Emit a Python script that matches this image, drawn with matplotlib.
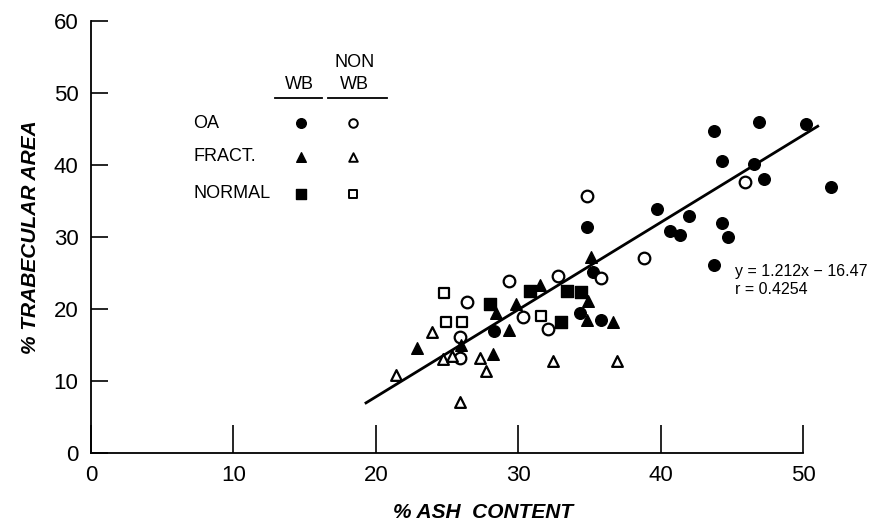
"""
% trabecular area vs % ash content, by group (OA / fract. / normal) and WB / non-WB.
Salida: out.png
"""

import matplotlib
matplotlib.use('Agg')
import matplotlib.pyplot as plt

# OA
oa_wb_x = [34.8, 39.7, 42.0, 40.6, 41.3, 35.2, 43.7, 46.9, 50.2, 44.3, 46.5, 47.2,
           51.9, 44.3, 44.7, 43.7, 34.3, 35.8, 28.3]
oa_wb_y = [31.3, 33.9, 32.9, 30.8, 30.2, 25.1, 44.7, 46.0, 45.6, 40.5, 40.1, 38.0,
           36.9, 31.9, 30.0, 26.1, 19.4, 18.4, 16.9]
oa_non_x = [34.8, 38.8, 35.8, 32.8, 29.3, 45.9, 26.4, 30.3, 32.1, 25.9, 25.9]
oa_non_y = [35.6, 27.1, 24.3, 24.5, 23.8, 37.6, 20.9, 18.9, 17.2, 16.1, 13.1]

# FRACT.
fr_wb_x = [35.1, 31.5, 29.8, 28.4, 34.9, 34.8, 36.6, 29.3, 22.9, 26.0, 28.2]
fr_wb_y = [27.2, 23.3, 20.7, 19.4, 21.1, 18.4, 18.1, 17.1, 14.6, 15.0, 13.7]
fr_non_x = [23.9, 24.7, 25.3, 27.3, 27.7, 32.4, 36.9, 21.4, 25.9]
fr_non_y = [16.7, 13.0, 13.4, 13.1, 11.4, 12.7, 12.7, 10.8, 7.1]

# NORMAL
no_wb_x = [30.8, 33.4, 34.4, 28.0, 33.0]
no_wb_y = [22.4, 22.4, 22.3, 20.7, 18.1]
no_non_x = [24.8, 31.6, 24.9, 26.05]
no_non_y = [22.2, 19.0, 18.1, 18.1]

# regression line y = 1.212x - 16.47
PENDIENTE = 1.212
ORDENADA = -16.47
linea_x = [19.3, 51.0]

x_ticks = [0, 10, 20, 30, 40, 50]
y_ticks = [0, 10, 20, 30, 40, 50, 60]

plt.rcParams['font.family'] = ['Liberation Sans', 'DejaVu Sans']

fig = plt.figure(figsize=(8.8, 5.23), dpi=100)
ax = fig.add_axes([0.1034, 0.1344, 0.8906, 0.826])
ax.set_xlim(0, 55)
ax.set_ylim(0, 60)

ms = 70
ax.scatter(oa_wb_x, oa_wb_y, s=ms, marker='o', color='black', zorder=3)
ax.scatter(oa_non_x, oa_non_y, s=ms, marker='o', facecolors='white',
           edgecolors='black', linewidths=1.6, zorder=3)
ax.scatter(fr_wb_x, fr_wb_y, s=ms, marker='^', color='black', zorder=3)
ax.scatter(fr_non_x, fr_non_y, s=ms * 0.85, marker='^', facecolors='white',
           edgecolors='black', linewidths=1.6, zorder=3)
ax.scatter(no_wb_x, no_wb_y, s=ms * 0.9, marker='s', color='black', zorder=3)
ax.scatter(no_non_x, no_non_y, s=ms * 0.8, marker='s', facecolors='white',
           edgecolors='black', linewidths=1.6, zorder=3)

ax.plot(linea_x, [PENDIENTE * v + ORDENADA for v in linea_x], color='black', lw=2.0)

# leyenda manual (tabla WB / NON WB)
leg_font = 13
ax.text(14.6, 51.1, 'WB', ha='center', va='center', fontsize=leg_font)
ax.text(18.5, 54.2, 'NON', ha='center', va='center', fontsize=leg_font)
ax.text(18.5, 51.1, 'WB', ha='center', va='center', fontsize=leg_font)
ax.plot([12.9, 16.2], [49.2, 49.2], color='black', lw=1.3, clip_on=False)
ax.plot([16.6, 20.8], [49.2, 49.2], color='black', lw=1.3, clip_on=False)
filas = [('OA', 45.75, 'o'), ('FRACT.', 41.1, '^'), ('NORMAL', 36.0, 's')]
for etiqueta, yy, mk in filas:
    ax.text(7.2, yy, etiqueta, ha='left', va='center', fontsize=leg_font)
    ax.scatter([14.74], [yy], s=48, marker=mk, color='black')
    ax.scatter([18.4], [yy], s=38, marker=mk, facecolors='white',
               edgecolors='black', linewidths=1.4)

ax.text(45.2, 25.1, 'y = 1.212x − 16.47', ha='left', va='center', fontsize=11.5)
ax.text(45.2, 22.6, 'r = 0.4254', ha='left', va='center', fontsize=11.5)

# ejes estilo publicación
for lado in ['top', 'right']:
    ax.spines[lado].set_visible(False)
ax.spines['left'].set_bounds(0, 60)
ax.spines['bottom'].set_bounds(0, 50)
ax.spines['left'].set_linewidth(1.3)
ax.spines['bottom'].set_linewidth(1.3)
ax.set_xticks(x_ticks)
ax.set_yticks(y_ticks)
ax.tick_params(axis='x', direction='in', length=20, width=1.2, pad=9, labelsize=16)
ax.tick_params(axis='y', direction='in', length=12, width=1.2, pad=9, labelsize=16)

ax.set_xlabel('% ASH  CONTENT', fontsize=15, fontstyle='italic', fontweight='bold',
              labelpad=12)
ax.set_ylabel('% TRABECULAR AREA', fontsize=15, fontstyle='italic', fontweight='bold',
              labelpad=10)

plt.savefig('out.png', dpi=100, facecolor='white')
plt.close()
